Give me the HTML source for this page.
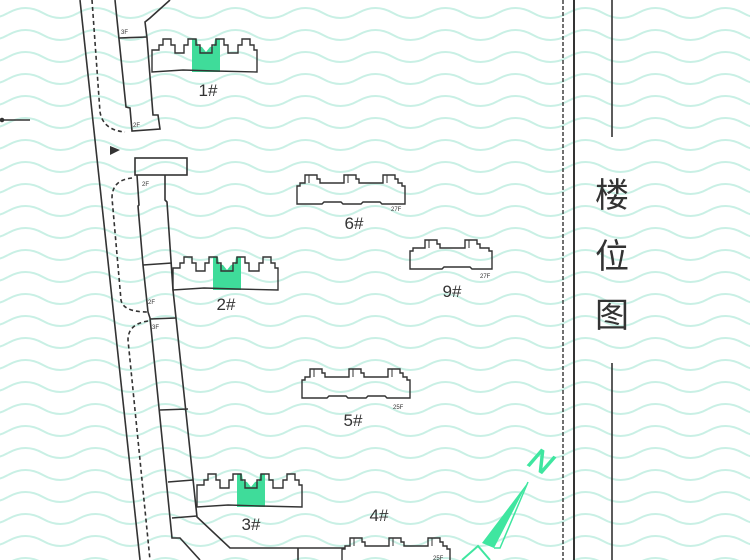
<!DOCTYPE html>
<html><head><meta charset="utf-8">
<style>
html,body{margin:0;padding:0;background:#fff;}
svg{display:block;}
text{font-family:"Liberation Sans","Noto Sans CJK SC",sans-serif;fill:#333;}
</style></head>
<body>
<svg width="750" height="560" viewBox="0 0 750 560" xmlns="http://www.w3.org/2000/svg">
<defs>
<pattern id="w" width="70" height="22" patternUnits="userSpaceOnUse" x="8" y="2">
<path d="M0,11 Q17.5,1 35,11 T70,11" fill="none" stroke="#c9f0e5" stroke-width="2"/>
<path d="M-70,11 Q-52.5,1 -35,11 T0,11" fill="none" stroke="#c9f0e5" stroke-width="2"/>
<path d="M70,11 Q87.5,1 105,11 T140,11" fill="none" stroke="#c9f0e5" stroke-width="2"/>
</pattern>
<g id="castle">
<path d="M40,0 L45,0 L46,7 L50,8 L54,13 L58,8 L62,7 L63,0 L68,0 L68,33 L40,33 Z" fill="#3fdc9a" stroke="none"/>
<path d="M0,33 L0,11 L5,11 L7,11 L7,6 L11,6 L11,0 L19,0 L19,6 L23,6 L23,14 L32,14 L32,6 L36,6 L36,0 L44,0 L44,6 L48,6 L48,14 L60,14 L60,6 L64,6 L64,0 L72,0 L72,6 L76,6 L76,14 L86,14 L86,6 L90,6 L90,0 L98,0 L98,6 L102,6 L102,11 L105,11 L105,33 L63,32 L31,31 Z" fill="none" stroke="#333" stroke-width="1.4"/>
</g>
<g id="slab3" fill="none" stroke="#333" stroke-width="1.4">
<path d="M0,29 L0,11 L3,11 L3,8 L8,8 L8,0 L20,0 L20,4 L23,4 L23,8 L47,8 L47,0 L59,0 L59,4 L62,4 L62,8 L86,8 L86,0 L98,0 L98,4 L101,4 L101,8 L105,8 L105,11 L108,11 L108,29 L85,29 L83,27 L66,27 L64,29 L46,29 L44,27 L27,27 L25,29 Z"/>
<path d="M12,0 V8 M51,0 V8 M90,0 V8" stroke-width="1"/>
</g>
<g id="slab2" fill="none" stroke="#333" stroke-width="1.4">
<path d="M0,29 L0,11 L3,11 L3,8 L15,8 L15,0 L27,0 L27,4 L30,4 L30,8 L55,8 L55,0 L67,0 L67,4 L70,4 L70,8 L79,8 L79,11 L82,11 L82,29 L62,29 L60,27 L34,27 L32,29 Z"/>
<path d="M19,0 V8 M59,0 V8" stroke-width="1"/>
</g>
</defs>
<rect width="750" height="560" fill="#fff"/>
<rect width="750" height="560" fill="url(#w)"/>
<g fill="none" stroke="#333" stroke-width="1.6">
<line x1="80" y1="0" x2="140" y2="560"/>
<path d="M92,0 L100,112 Q103,130 125,132" stroke-dasharray="4,3"/>
<path d="M132,178 Q112,180 112,198 L121,300 Q123,312 148,312" stroke-dasharray="4,3"/>
<path d="M148,321 Q128,324 128,340 L150,560" stroke-dasharray="4,3"/>
<line x1="2" y1="120" x2="30" y2="120"/>
<circle cx="2" cy="120" r="1.5" fill="#333"/>
<polygon points="110,146 110,155 120,150" fill="#333" stroke="none"/>
<polyline points="170,0 150,18 145,22 147,38 153,115 158,115 160,129 132,131 130,108 126,107 119,39 115,0"/>
<line x1="119" y1="38" x2="147" y2="37"/>
<rect x="135" y="158" width="52" height="17"/>
<polyline points="137,175 139,205 138,206 143,265 148,312 150,318 172,538 180,538 200,560"/>
<polyline points="165,175 165,200 167,202 173,290 176,318 197,517 230,548 298,548 345,548"/>
<line x1="298" y1="548" x2="298" y2="560"/>
<line x1="143" y1="265" x2="172" y2="263"/>
<line x1="150" y1="319" x2="176" y2="318"/>
<line x1="160" y1="410" x2="188" y2="409"/>
<line x1="168" y1="482" x2="193" y2="480"/>
<line x1="172" y1="518" x2="197" y2="516"/>
<line x1="563" y1="0" x2="563" y2="560" stroke-dasharray="4,2" stroke-width="1.4"/>
<line x1="574" y1="0" x2="574" y2="560" stroke-width="2"/>
<line x1="612" y1="0" x2="612" y2="137"/>
<line x1="612" y1="363" x2="612" y2="560"/>
</g>
<use href="#castle" x="152" y="39"/>
<use href="#castle" x="173" y="257"/>
<use href="#castle" x="197" y="474"/>
<use href="#slab3" x="297" y="175"/>
<use href="#slab3" x="302" y="369"/>
<use href="#slab3" x="342" y="538"/>
<use href="#slab2" x="410" y="240"/>
<g fill="#3fe6a0" stroke="#3fe6a0">
<polygon points="528,482 482,543 494,548" stroke="none"/>
<polyline points="528,482 500,548 494,548" fill="none" stroke-width="1.5"/>
<text x="0" y="0" font-size="30" font-style="italic" transform="translate(536,470) rotate(30)" text-anchor="middle" style="fill:#3fe6a0">N</text>
<polyline points="462,560 478,546 490,560" fill="none" stroke-width="2"/>
</g>
<g font-size="17" text-anchor="middle">
<text x="208" y="96">1#</text>
<text x="226" y="310">2#</text>
<text x="251" y="530">3#</text>
<text x="379" y="521">4#</text>
<text x="353" y="426">5#</text>
<text x="354" y="229">6#</text>
<text x="452" y="297">9#</text>
</g>
<g font-size="6">
<text x="121" y="34">3F</text>
<text x="133" y="127">2F</text>
<text x="142" y="186">2F</text>
<text x="148" y="304">2F</text>
<text x="152" y="329">3F</text>
<text x="391" y="211">27F</text>
<text x="480" y="278">27F</text>
<text x="393" y="409">25F</text>
<text x="433" y="560">25F</text>
</g>
<g font-size="34" text-anchor="middle">
<text x="612" y="207">楼</text>
<text x="612" y="268">位</text>
<text x="612" y="327">图</text>
</g>
</svg>
</body></html>
